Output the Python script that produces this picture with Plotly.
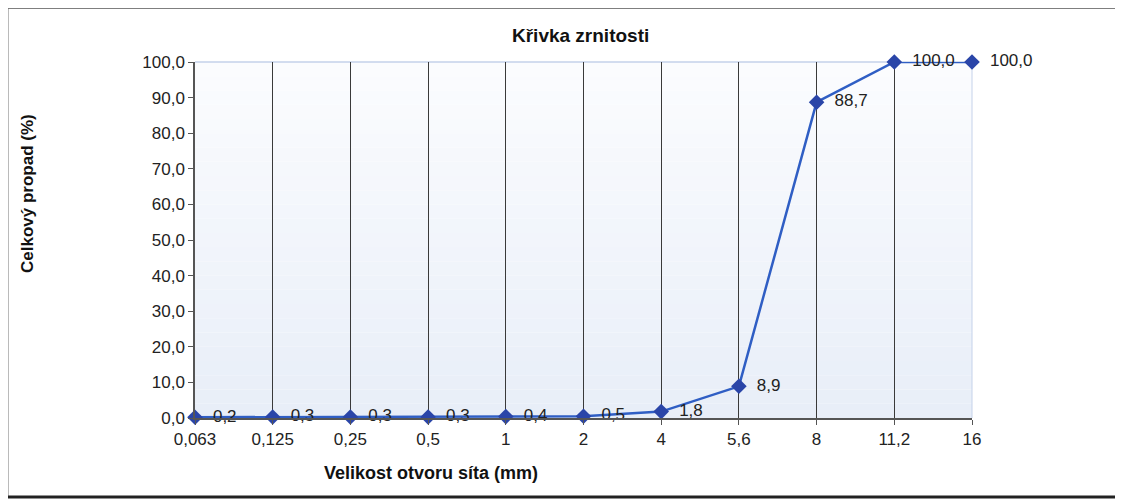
import plotly.graph_objects as go

sieve_sizes = ["0,063", "0,125", "0,25", "0,5", "1", "2", "4", "5,6", "8", "11,2", "16"]
passing_pct = [0.2, 0.3, 0.3, 0.3, 0.4, 0.5, 1.8, 8.9, 88.7, 100.0, 100.0]
y_ticks = [0, 10, 20, 30, 40, 50, 60, 70, 80, 90, 100]

FONT = "Liberation Sans, Arial, sans-serif"

# plot-area reference geometry (page pixels)
PX0, PX1, PY0, PY1 = 195, 972, 418, 62
PW, PH = PX1 - PX0, PY0 - PY1


def px(x):
    return (x - PX0) / PW


def py(y):
    return (PY0 - y) / PH


fig = go.Figure()
fig.add_trace(go.Scatter(
    x=sieve_sizes, y=passing_pct,
    mode="lines+markers+text",
    line=dict(color="#2f5ec4", width=2.5),
    marker=dict(symbol="diamond", size=12, color="#2a45a8"),
    texttemplate="  %{y:.1f}",
    textposition="middle right",
    textfont=dict(family=FONT, size=17, color="#222222"),
    cliponaxis=False,
    showlegend=False,
))

shapes = []
n = 25
top = (251, 252, 254)
bot = (232, 238, 248)
for i in range(n):
    t = i / (n - 1)
    c = tuple(int(round(bot[k] + (top[k] - bot[k]) * t)) for k in range(3))
    shapes.append(dict(type="rect", xref="paper", yref="y", x0=0, x1=1,
                       y0=100 * i / n, y1=100 * (i + 1) / n,
                       fillcolor="rgb(%d,%d,%d)" % c, line=dict(width=0), layer="below"))
# outer frame
shapes.append(dict(type="line", xref="paper", yref="paper", x0=px(8), x1=px(1123), y0=py(8), y1=py(8),
                   line=dict(color="#555555", width=1.5)))
shapes.append(dict(type="line", xref="paper", yref="paper", x0=px(8), x1=px(8), y0=py(8), y1=py(497),
                   line=dict(color="#777777", width=1)))
shapes.append(dict(type="line", xref="paper", yref="paper", x0=px(8), x1=px(1123), y0=py(497), y1=py(497),
                   line=dict(color="#222222", width=3)))
shapes.append(dict(type="line", xref="paper", yref="paper", x0=1, x1=1, y0=0, y1=1,
                   line=dict(color="#c5d2ea", width=1), layer="below"))
shapes.append(dict(type="line", xref="paper", yref="paper", x0=0, x1=1, y0=1, y1=1,
                   line=dict(color="#c5d2ea", width=1.5), layer="below"))

fig.update_layout(
    width=1115, height=494,
    margin=dict(l=PX0 - 8, r=1115 - (PX1 - 8), t=PY1 - 8, b=494 - (PY0 - 8)),
    paper_bgcolor="white",
    plot_bgcolor="rgba(0,0,0,0)",
    separators=", ",
    font=dict(family=FONT, size=17, color="#222222"),
    shapes=shapes,
    annotations=[
        dict(text="<b>Křivka zrnitosti</b>", xref="paper", yref="paper",
             x=px(580), y=py(35), xanchor="center", yanchor="middle", showarrow=False,
             font=dict(family=FONT, size=19, color="#111111")),
        dict(text="<b>Velikost otvoru síta (mm)</b>", xref="paper", yref="paper",
             x=px(431), y=py(473), xanchor="center", yanchor="middle", showarrow=False,
             font=dict(family=FONT, size=18, color="#111111")),
        dict(text="<b>Celkový propad (%)</b>", xref="paper", yref="paper",
             x=px(27), y=py(194), xanchor="center", yanchor="middle", showarrow=False, textangle=-90,
             font=dict(family=FONT, size=17, color="#111111")),
    ],
)
fig.update_xaxes(
    type="category", range=[0, len(sieve_sizes) - 1],
    showgrid=True, gridcolor="#3a3a3a", gridwidth=1,
    showline=True, linecolor="#555555", linewidth=1.5,
    ticks="outside", ticklen=5, tickcolor="#555555",
    tickfont=dict(family=FONT, size=17, color="#222222"),
    zeroline=False,
)
fig.update_yaxes(
    range=[0, 100], tickvals=y_ticks, tickformat=".1f",
    showgrid=False,
    showline=True, linecolor="#555555", linewidth=1.5,
    ticks="outside", ticklen=5, tickcolor="#555555",
    tickfont=dict(family=FONT, size=17, color="#222222"),
    zeroline=False,
)

fig.write_html("out.html")
